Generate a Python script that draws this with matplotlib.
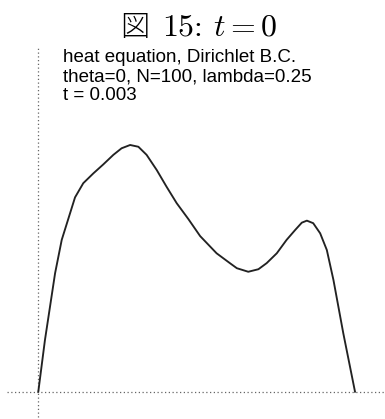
import matplotlib
matplotlib.use("Agg")
import matplotlib.pyplot as plt

plt.rcParams["mathtext.fontset"] = "cm"

# Solution profile u(x) of the heat equation at t = 0.003
x_vals = [0.000, 0.021, 0.037, 0.053, 0.074, 0.095, 0.116, 0.142, 0.174,
          0.205, 0.237, 0.263, 0.290, 0.316, 0.342, 0.374, 0.405, 0.437,
          0.474, 0.511, 0.563, 0.605, 0.627, 0.663, 0.695, 0.721, 0.753,
          0.784, 0.811, 0.832, 0.848, 0.868, 0.890, 0.911, 0.932, 0.963,
          1.000]
u_vals = [0.000, 0.204, 0.336, 0.468, 0.600, 0.684, 0.768, 0.824, 0.863,
          0.898, 0.936, 0.962, 0.975, 0.968, 0.936, 0.876, 0.810, 0.745,
          0.682, 0.615, 0.547, 0.508, 0.488, 0.474, 0.484, 0.508, 0.547,
          0.600, 0.639, 0.668, 0.676, 0.666, 0.626, 0.560, 0.441, 0.231,
          0.000]

fig_label = "図"
title_math = r"15: $t = 0$"
info_lines = ["heat equation, Dirichlet B.C.",
              "theta=0, N=100, lambda=0.25",
              "t = 0.003"]

x_range = (-0.1, 1.1)
u_range = (-0.1, 1.366)

W, H = 385, 419
fig = plt.figure(figsize=(W / 100, H / 100), dpi=100)
ax = fig.add_axes([0, 0, 1, 1])
ax.set_xlim(-0.1209, 1.0947)
ax.set_ylim(-0.1079, 1.548)
ax.axis("off")

dot = dict(color="#666666", lw=0.9, linestyle=(0, (1, 2)))
ax.hlines(0, x_range[0], x_range[1] + 0.1, **dot)
ax.vlines(0, u_range[0], u_range[1], **dot)

ax.plot(x_vals, u_vals, color="#222222", lw=1.35,
        solid_joinstyle="round", antialiased=True)

fig.text(120 / W, 1 - 36 / H, fig_label, ha="left", va="baseline",
         fontsize=21, family="Noto Sans CJK JP", fontweight="light")
fig.text(278 / W, 1 - 36 / H, title_math, ha="right", va="baseline",
         fontsize=23, family="cmr10")

for line, base in zip(info_lines, [62.5, 81, 100]):
    fig.text(63 / W, 1 - base / H, line, ha="left", va="baseline",
             fontsize=13.5, family="Liberation Sans")

fig.savefig("out.png", dpi=100)
